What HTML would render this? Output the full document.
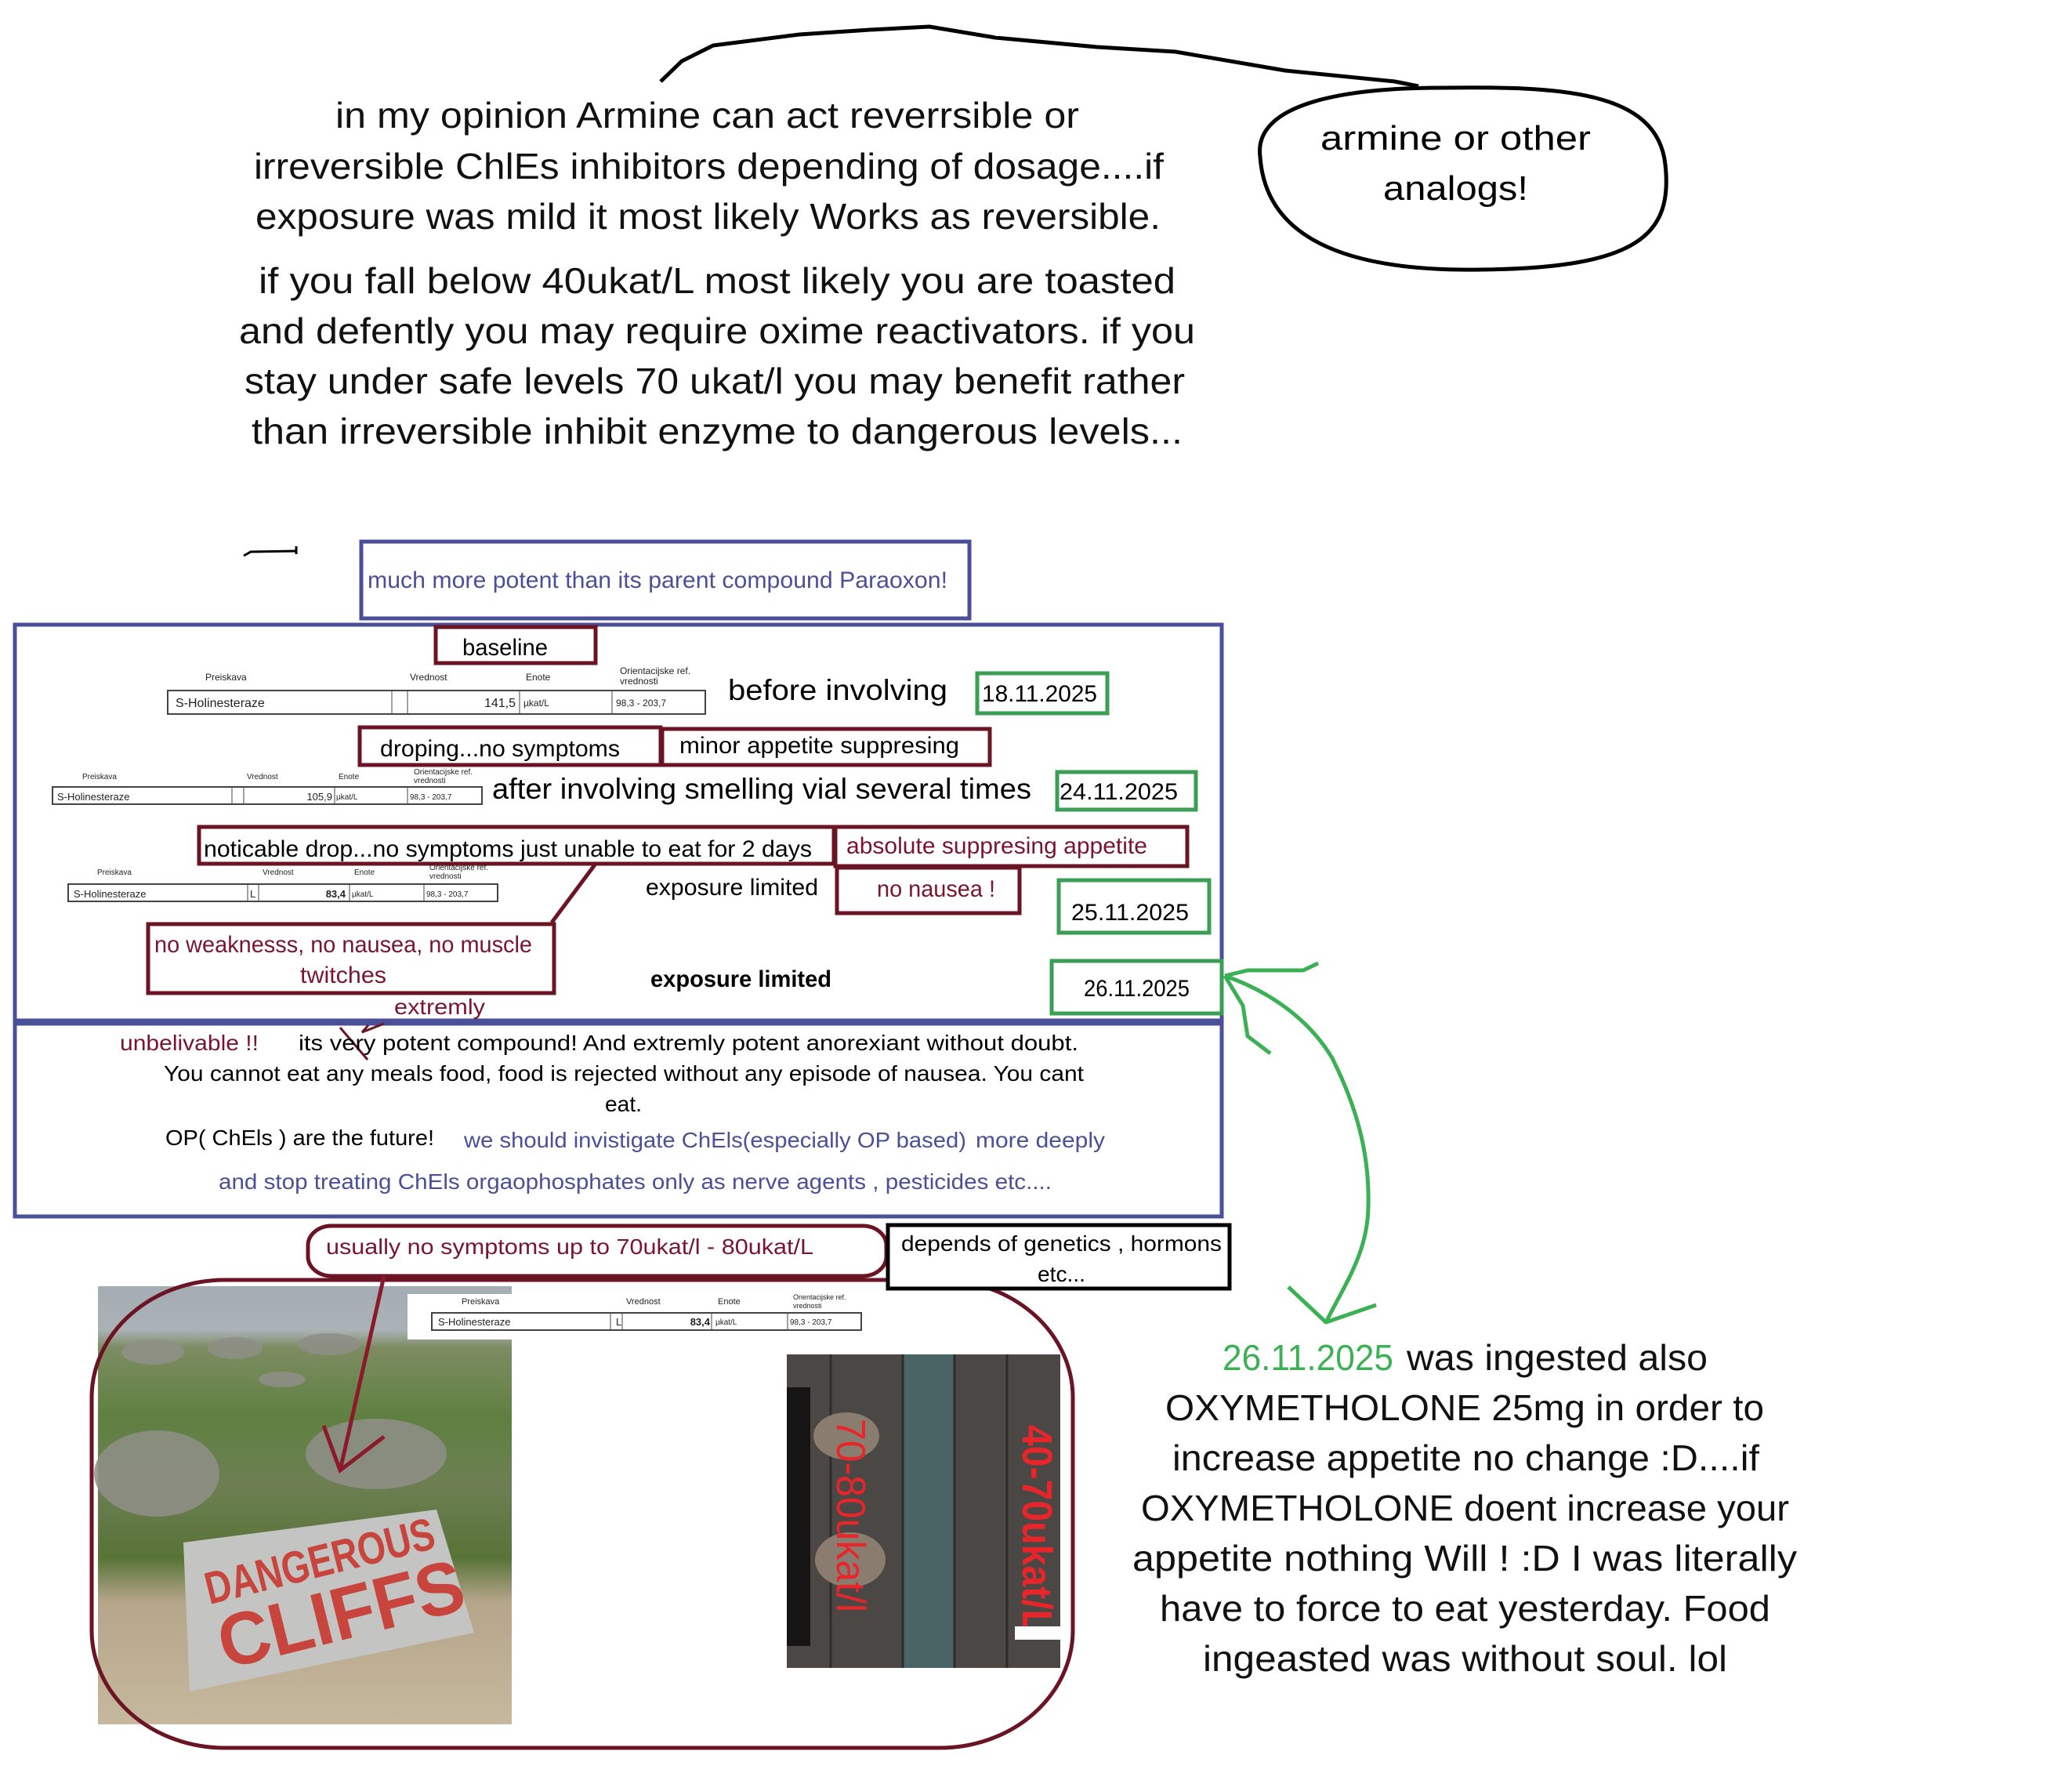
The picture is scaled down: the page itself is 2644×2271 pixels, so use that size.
<!DOCTYPE html>
<html><head><meta charset="utf-8"><style>
html,body{margin:0;padding:0;background:#fff;}
svg{display:block;}
text{font-family:"Liberation Sans","DejaVu Sans",sans-serif;}
</style></head><body>
<svg width="2644" height="2271" viewBox="0 0 2644 2271" xmlns="http://www.w3.org/2000/svg">
<defs>
<linearGradient id="cl" x1="0" y1="0" x2="0" y2="1">
<stop offset="0" stop-color="#a4adb3"/><stop offset="0.1" stop-color="#aab2b6"/>
<stop offset="0.14" stop-color="#7d8c62"/><stop offset="0.3" stop-color="#5f8040"/>
<stop offset="0.45" stop-color="#6d7f52"/><stop offset="0.62" stop-color="#587338"/>
<stop offset="0.72" stop-color="#b5a68a"/><stop offset="1" stop-color="#c6b89e"/>
</linearGradient>
</defs>
<rect width="2644" height="2271" fill="#fff"/>

<!-- top tail -->
<polyline points="843,104 870,78 910,58 1020,44 1110,38 1186,34 1270,48 1400,60 1500,66 1640,90 1780,104 1810,110" fill="none" stroke="#000" stroke-width="5" stroke-linejoin="round"/>
<!-- bubble -->
<path d="M1608,200 C1600,140 1690,112 1840,112 C1990,110 2115,115 2125,210 C2135,300 2090,342 1890,344 C1710,347 1615,300 1608,200 Z" fill="none" stroke="#000" stroke-width="5"/>
<text x="1685" y="191" font-size="44" textLength="345" lengthAdjust="spacingAndGlyphs">armine or other</text>
<text x="1765" y="255" font-size="44" textLength="185" lengthAdjust="spacingAndGlyphs">analogs!</text>

<!-- top text -->
<g font-size="46" fill="#111">
<text x="428" y="163" textLength="949" lengthAdjust="spacingAndGlyphs">in my opinion Armine can act reverrsible or</text>
<text x="324" y="228" textLength="1161" lengthAdjust="spacingAndGlyphs">irreversible ChlEs inhibitors depending of dosage....if</text>
<text x="326" y="292" textLength="1155" lengthAdjust="spacingAndGlyphs">exposure was mild it most likely Works as reversible.</text>
<text x="330" y="374" textLength="1170" lengthAdjust="spacingAndGlyphs">if you fall below 40ukat/L most likely you are toasted</text>
<text x="305" y="438" textLength="1220" lengthAdjust="spacingAndGlyphs">and defently you may require oxime reactivators. if you</text>
<text x="312" y="502" textLength="1200" lengthAdjust="spacingAndGlyphs">stay under safe levels 70 ukat/l you may benefit rather</text>
<text x="321" y="566" textLength="1188" lengthAdjust="spacingAndGlyphs">than irreversible  inhibit enzyme to dangerous levels...</text>
</g>

<!-- small mark -->
<polyline points="311,709 320,704 378,703" fill="none" stroke="#000" stroke-width="3"/>
<line x1="378" y1="697" x2="378" y2="707" stroke="#000" stroke-width="3"/>

<!-- paraoxon box -->
<rect x="461" y="691" width="776" height="98" fill="none" stroke="#4a4f98" stroke-width="5"/>
<text x="469" y="750" font-size="30" fill="#4a4f98" textLength="740" lengthAdjust="spacingAndGlyphs">much more potent than its parent compound Paraoxon!</text>

<!-- outer boxes -->
<rect x="19" y="797" width="1540" height="505" fill="none" stroke="#4a4f98" stroke-width="5"/>
<rect x="19" y="1306" width="1540" height="246" fill="none" stroke="#4a4f98" stroke-width="5"/>

<g fill="none" stroke="#6b1424" stroke-width="5">
<rect x="556" y="800" width="204" height="46"/>
<rect x="459" y="928" width="384" height="48"/>
<rect x="845" y="930" width="418" height="46"/>
<rect x="254" y="1055" width="810" height="47"/>
<rect x="1066" y="1055" width="449" height="50"/>
<rect x="1068" y="1107" width="233" height="58"/>
<rect x="189" y="1179" width="518" height="88"/>
<line x1="760" y1="1102" x2="704" y2="1177"/>
</g>
<g fill="none" stroke="#3a9e55" stroke-width="5">
<rect x="1247" y="859" width="166" height="51"/>
<rect x="1349" y="985" width="177" height="48"/>
<rect x="1351" y="1123" width="192" height="67"/>
<rect x="1342" y="1226" width="217" height="67"/>
</g>

<text x="590" y="836" font-size="30" textLength="109" lengthAdjust="spacingAndGlyphs">baseline</text>
<text x="485" y="965" font-size="30" textLength="306" lengthAdjust="spacingAndGlyphs">droping...no symptoms</text>
<text x="867" y="961" font-size="30" textLength="357" lengthAdjust="spacingAndGlyphs">minor  appetite suppresing</text>
<text x="260" y="1093" font-size="30" textLength="776" lengthAdjust="spacingAndGlyphs">noticable drop...no symptoms just unable to eat for 2 days</text>
<text x="1080" y="1089" font-size="30" fill="#7a1530" textLength="384" lengthAdjust="spacingAndGlyphs">absolute suppresing appetite</text>
<text x="1119" y="1144" font-size="30" fill="#7a1530" textLength="151" lengthAdjust="spacingAndGlyphs">no nausea !</text>
<text x="197" y="1215" font-size="30" fill="#7a1530" textLength="482" lengthAdjust="spacingAndGlyphs">no weaknesss, no nausea, no muscle</text>
<text x="383" y="1254" font-size="30" fill="#7a1530" textLength="110" lengthAdjust="spacingAndGlyphs">twitches</text>
<text x="929" y="893" font-size="37" textLength="280" lengthAdjust="spacingAndGlyphs">before  involving</text>
<text x="628" y="1019" font-size="37" textLength="688" lengthAdjust="spacingAndGlyphs">after  involving  smelling vial several times</text>
<text x="824" y="1142" font-size="30" textLength="220" lengthAdjust="spacingAndGlyphs">exposure limited</text>
<text x="830" y="1259" font-size="30" font-weight="bold" textLength="231" lengthAdjust="spacingAndGlyphs">exposure limited</text>
<text x="1253" y="895" font-size="30" textLength="147" lengthAdjust="spacingAndGlyphs">18.11.2025</text>
<text x="1352" y="1020" font-size="30" textLength="151" lengthAdjust="spacingAndGlyphs">24.11.2025</text>
<text x="1367" y="1174" font-size="30" textLength="150" lengthAdjust="spacingAndGlyphs">25.11.2025</text>
<text x="1383" y="1271" font-size="30" textLength="135" lengthAdjust="spacingAndGlyphs">26.11.2025</text>

<!-- tables -->
<g font-size="12" fill="#222">
<text x="262" y="868">Preiskava</text><text x="523" y="868">Vrednost</text><text x="671" y="868">Enote</text>
<text x="791" y="860">Orientacijske ref.</text><text x="791" y="873">vrednosti</text>
<rect x="214" y="881" width="686" height="30" fill="none" stroke="#444" stroke-width="2"/>
<line x1="500" y1="881" x2="500" y2="911" stroke="#444"/><line x1="520" y1="881" x2="520" y2="911" stroke="#444"/><line x1="663" y1="881" x2="663" y2="911" stroke="#444"/><line x1="781" y1="881" x2="781" y2="911" stroke="#444"/>
<text x="224" y="902" font-size="16">S-Holinesteraze</text><text x="658" y="902" font-size="16" text-anchor="end">141,5</text><text x="668" y="901" font-size="12">µkat/L</text><text x="786" y="901" font-size="12">98,3 - 203,7</text>

<text x="105" y="994" font-size="10">Preiskava</text><text x="315" y="994" font-size="10">Vrednost</text><text x="432" y="994" font-size="10">Enote</text>
<text x="528" y="988" font-size="10">Orientacijske ref.</text><text x="528" y="999" font-size="10">vrednosti</text>
<rect x="67" y="1004" width="548" height="22" fill="none" stroke="#444" stroke-width="2"/>
<line x1="296" y1="1004" x2="296" y2="1026" stroke="#444"/><line x1="311" y1="1004" x2="311" y2="1026" stroke="#444"/><line x1="427" y1="1004" x2="427" y2="1026" stroke="#444"/><line x1="520" y1="1004" x2="520" y2="1026" stroke="#444"/>
<text x="73" y="1021" font-size="13">S-Holinesteraze</text><text x="424" y="1021" font-size="13" text-anchor="end">105,9</text><text x="429" y="1020" font-size="10">µkat/L</text><text x="523" y="1020" font-size="10">98,3 - 203,7</text>

<text x="124" y="1116" font-size="10">Preiskava</text><text x="335" y="1116" font-size="10">Vrednost</text><text x="452" y="1116" font-size="10">Enote</text>
<text x="548" y="1110" font-size="10">Orientacijske ref.</text><text x="548" y="1121" font-size="10">vrednosti</text>
<rect x="87" y="1128" width="548" height="22" fill="none" stroke="#444" stroke-width="2"/>
<line x1="316" y1="1128" x2="316" y2="1150" stroke="#444"/><line x1="330" y1="1128" x2="330" y2="1150" stroke="#444"/><line x1="446" y1="1128" x2="446" y2="1150" stroke="#444"/><line x1="541" y1="1128" x2="541" y2="1150" stroke="#444"/>
<text x="94" y="1145" font-size="13">S-Holinesteraze</text><text x="319" y="1145" font-size="13">L</text><text x="441" y="1145" font-size="13" font-weight="bold" text-anchor="end">83,4</text><text x="449" y="1144" font-size="10">µkat/L</text><text x="544" y="1144" font-size="10">98,3 - 203,7</text>
</g>

<!-- extremly -->
<text x="503" y="1294" font-size="28" fill="#7a1530" textLength="116" lengthAdjust="spacingAndGlyphs">extremly</text>
<g stroke="#6b1424" stroke-width="3" fill="none">
<line x1="434" y1="1311" x2="469" y2="1352"/>
<polyline points="490,1306 462,1317 470,1308"/>
</g>

<!-- box 2 text -->
<text x="153" y="1340" font-size="28" fill="#7a1530" textLength="177" lengthAdjust="spacingAndGlyphs">unbelivable !!</text>
<text x="381" y="1340" font-size="28" textLength="995" lengthAdjust="spacingAndGlyphs">its very potent compound! And extremly potent anorexiant without doubt.</text>
<text x="209" y="1379" font-size="28" textLength="1174" lengthAdjust="spacingAndGlyphs">You cannot eat any meals food, food is rejected without any episode of nausea. You cant</text>
<text x="772" y="1418" font-size="28" textLength="47" lengthAdjust="spacingAndGlyphs">eat.</text>
<text x="211" y="1461" font-size="28" textLength="343" lengthAdjust="spacingAndGlyphs">OP( ChEls ) are the future!</text>
<text x="592" y="1464" font-size="28" fill="#4a4f98" textLength="641" lengthAdjust="spacingAndGlyphs">we should invistigate ChEls(especially OP based)</text>
<text x="1245" y="1464" font-size="28" fill="#4a4f98" textLength="165" lengthAdjust="spacingAndGlyphs">more deeply</text>
<text x="279" y="1517" font-size="28" fill="#4a4f98" textLength="1063" lengthAdjust="spacingAndGlyphs">and stop treating ChEls orgaophosphates only as nerve agents , pesticides etc....</text>

<!-- photos -->
<rect x="125" y="1641" width="528" height="559" fill="url(#cl)"/>
<g fill="#8f8f88" opacity="0.85">
<ellipse cx="200" cy="1880" rx="80" ry="55"/><ellipse cx="480" cy="1855" rx="90" ry="45"/>
<ellipse cx="195" cy="1725" rx="40" ry="16"/><ellipse cx="300" cy="1720" rx="35" ry="14"/><ellipse cx="420" cy="1715" rx="40" ry="14"/><ellipse cx="360" cy="1760" rx="30" ry="10"/>
</g>
<polygon points="234,1968 557,1926 605,2083 242,2158" fill="#c4c4c2"/>
<g transform="rotate(-14 420 2040)" fill="#c8453e" font-weight="bold">
<text x="270" y="2010" font-size="58" textLength="300" lengthAdjust="spacingAndGlyphs">DANGEROUS</text>
<text x="270" y="2095" font-size="95" textLength="320" lengthAdjust="spacingAndGlyphs">CLIFFS</text>
</g>

<rect x="520" y="1651" width="597" height="58" fill="#fff"/>
<g font-size="11" fill="#222">
<text x="589" y="1664">Preiskava</text><text x="799" y="1664">Vrednost</text><text x="916" y="1664">Enote</text>
<text x="1012" y="1658" font-size="9">Orientacijske ref.</text><text x="1012" y="1669" font-size="9">vrednosti</text>
<rect x="551" y="1675" width="548" height="22" fill="none" stroke="#444" stroke-width="2"/>
<line x1="779" y1="1675" x2="779" y2="1697" stroke="#444"/><line x1="794" y1="1675" x2="794" y2="1697" stroke="#444"/><line x1="908" y1="1675" x2="908" y2="1697" stroke="#444"/><line x1="1005" y1="1675" x2="1005" y2="1697" stroke="#444"/>
<text x="559" y="1691" font-size="13">S-Holinesteraze</text><text x="786" y="1691" font-size="13">L</text><text x="906" y="1691" font-size="13" font-weight="bold" text-anchor="end">83,4</text><text x="913" y="1690" font-size="10">µkat/L</text><text x="1008" y="1690" font-size="10">98,3 - 203,7</text>
</g>

<rect x="1004" y="1728" width="349" height="400" fill="#4b4744"/>
<rect x="1152" y="1728" width="66" height="400" fill="#4a6466"/>
<g stroke="#2e2b29" stroke-width="3"><line x1="1060" y1="1728" x2="1060" y2="2128"/><line x1="1285" y1="1728" x2="1285" y2="2128"/><line x1="1152" y1="1728" x2="1152" y2="2128"/><line x1="1218" y1="1728" x2="1218" y2="2128"/></g>
<rect x="1004" y="1770" width="30" height="330" fill="#161414"/>
<ellipse cx="1080" cy="1832" rx="42" ry="30" fill="#8a7d70"/>
<ellipse cx="1085" cy="1990" rx="45" ry="35" fill="#8a7d70"/>
<text transform="translate(1068,1810) rotate(90)" font-size="52" fill="#e8252a" textLength="247" lengthAdjust="spacingAndGlyphs">70-80ukat/l</text>
<text transform="translate(1305,1818) rotate(90)" font-size="54" font-weight="bold" fill="#e8252a" textLength="265" lengthAdjust="spacingAndGlyphs">40-70ukat/L</text>
<rect x="1295" y="2075" width="58" height="17" fill="#fff"/>

<!-- big rounded rect -->
<rect x="117" y="1633" width="1252" height="597" rx="170" ry="150" fill="none" stroke="#6b1424" stroke-width="5"/>
<!-- usually box -->
<rect x="393" y="1564" width="738" height="64" rx="30" ry="25" fill="#fff" stroke="#6b1424" stroke-width="5"/>
<text x="416" y="1600" font-size="28" fill="#7a1530" textLength="622" lengthAdjust="spacingAndGlyphs">usually no symptoms up to 70ukat/l - 80ukat/L</text>
<rect x="1133" y="1563" width="436" height="81" fill="#fff" stroke="#000" stroke-width="5"/>
<text x="1150" y="1596" font-size="28" textLength="409" lengthAdjust="spacingAndGlyphs">depends of genetics , hormons</text>
<text x="1324" y="1635" font-size="28" textLength="61" lengthAdjust="spacingAndGlyphs">etc...</text>
<!-- red arrow -->
<g stroke="#8b1a2a" stroke-width="5" fill="none"><line x1="490" y1="1628" x2="434" y2="1876"/><polyline points="413,1819 434,1876 490,1833"/></g>

<!-- green arrow -->
<g stroke="#3cb054" stroke-width="5" fill="none" stroke-linejoin="round">
<polyline points="1563,1245 1592,1238 1663,1238 1682,1229"/>
<polyline points="1563,1245 1586,1283 1592,1322 1621,1344"/>
<path d="M1563,1245 C1620,1265 1670,1300 1700,1350 C1730,1410 1748,1470 1746,1540 C1745,1600 1715,1640 1692,1687"/>
<polyline points="1644,1642 1692,1687 1756,1665"/>
</g>

<!-- right text -->
<g font-size="46" fill="#111">
<text x="1560" y="1748" fill="#3cb054" textLength="218" lengthAdjust="spacingAndGlyphs">26.11.2025</text>
<text x="1795" y="1748" textLength="384" lengthAdjust="spacingAndGlyphs">was ingested also</text>
<text x="1487" y="1812" textLength="764" lengthAdjust="spacingAndGlyphs">OXYMETHOLONE 25mg in order to</text>
<text x="1496" y="1876" textLength="749" lengthAdjust="spacingAndGlyphs">increase appetite no change :D....if</text>
<text x="1456" y="1940" textLength="827" lengthAdjust="spacingAndGlyphs">OXYMETHOLONE doent increase your</text>
<text x="1445" y="2004" textLength="848" lengthAdjust="spacingAndGlyphs">appetite nothing Will ! :D I was literally</text>
<text x="1480" y="2068" textLength="779" lengthAdjust="spacingAndGlyphs">have to force to eat yesterday. Food</text>
<text x="1535" y="2132" textLength="669" lengthAdjust="spacingAndGlyphs">ingeasted was without soul. lol</text>
</g>
</svg>
</body></html>
